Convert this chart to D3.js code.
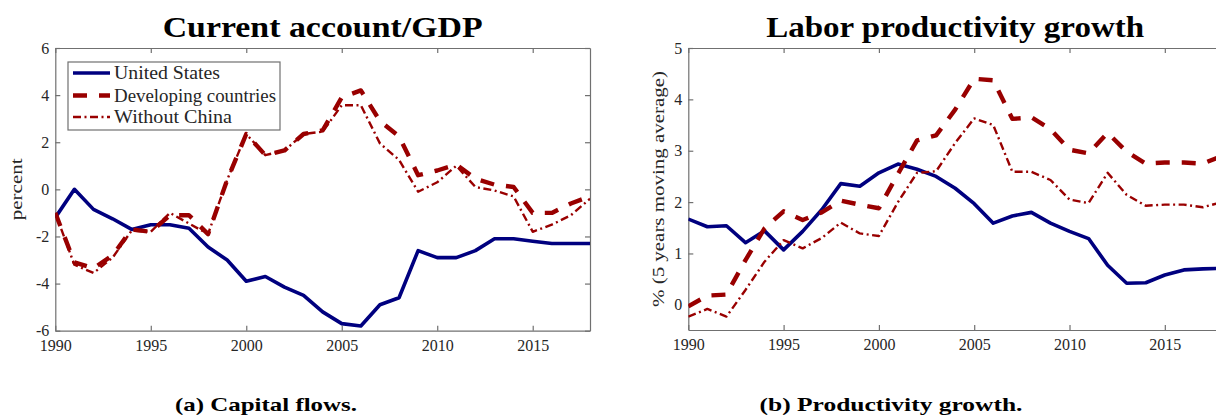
<!DOCTYPE html>
<html>
<head>
<meta charset="utf-8">
<script src="https://cdn.jsdelivr.net/npm/d3@7"></script>
<style>
  html, body { margin: 0; padding: 0; background: #fff; }
  svg { display: block; }
  text { font-family: "Liberation Serif", "Times New Roman", serif; }
</style>
</head>
<body>
<svg id="chart" width="1216" height="416"></svg>
<script>
// ---------------- DATA ----------------
const years = [1990,1991,1992,1993,1994,1995,1996,1997,1998,1999,2000,2001,2002,2003,2004,2005,2006,2007,2008,2009,2010,2011,2012,2013,2014,2015,2016,2017,2018];

// Panel (a): Current account / GDP (percent)
const caUS  = [-1.2, 0.0, -0.85, -1.25, -1.7, -1.5, -1.5, -1.65, -2.45, -3.0, -3.9, -3.7, -4.15, -4.5, -5.2, -5.7, -5.8, -4.9, -4.6, -2.6, -2.9, -2.9, -2.6, -2.1, -2.1, -2.2, -2.3, -2.3, -2.3];
const caDev = [-1.0, -3.1, -3.35, -2.8, -1.7, -1.8, -1.1, -1.1, -1.9, 0.4, 2.35, 1.45, 1.65, 2.35, 2.5, 3.9, 4.2, 2.9, 2.25, 0.6, 0.8, 1.05, 0.45, 0.2, 0.1, -1.0, -1.0, -0.6, -0.3];
const caWoC = [-1.0, -3.2, -3.55, -2.9, -1.75, -1.8, -1.0, -1.45, -1.9, 0.4, 2.35, 1.45, 1.65, 2.35, 2.45, 3.57, 3.57, 1.95, 1.25, -0.1, 0.3, 1.0, 0.1, -0.05, -0.3, -1.8, -1.5, -1.1, -0.4];

// Panel (b): Labor productivity growth (%, 5 years moving average)
const lpUS  = [1.67, 1.52, 1.54, 1.21, 1.44, 1.07, 1.43, 1.85, 2.36, 2.31, 2.57, 2.74, 2.64, 2.5, 2.27, 1.97, 1.59, 1.73, 1.8, 1.59, 1.43, 1.29, 0.77, 0.42, 0.43, 0.58, 0.68, 0.7, 0.71];
const lpDev = [-0.03, 0.18, 0.2, 0.87, 1.49, 1.82, 1.65, 1.8, 2.03, 1.95, 1.88, 2.55, 3.2, 3.3, 3.8, 4.4, 4.37, 3.62, 3.65, 3.42, 3.02, 2.95, 3.35, 2.98, 2.75, 2.77, 2.77, 2.75, 2.9];
const lpWoC = [-0.23, -0.08, -0.23, 0.29, 0.84, 1.26, 1.1, 1.3, 1.6, 1.39, 1.34, 2.0, 2.57, 2.6, 3.15, 3.63, 3.5, 2.59, 2.59, 2.43, 2.05, 1.98, 2.57, 2.14, 1.93, 1.95, 1.95, 1.9, 2.0];

const seriesNames = ["United States", "Developing countries", "Without China"];
const xTicks = [1990, 1995, 2000, 2005, 2010, 2015];
const caTicks = [-6, -4, -2, 0, 2, 4, 6];
const lpTicks = [0, 1, 2, 3, 4, 5];
const titles = ["Current account/GDP", "Labor productivity growth"];
const yLabels = ["percent", "% (5 years moving average)"];
const captions = ["(a) Capital flows.", "(b) Productivity growth."];

// ---------------- STYLE ----------------
const navy = "#00007f", red = "#990000";
const styles = [
  { color: navy, width: 3.6, dash: null },
  { color: red,  width: 4.4, dash: "14,12" },
  { color: red,  width: 2.4, dash: "8,3.5,2,3.5" }
];
const axisColor = "#707070", labelColor = "#262626";

const svg = d3.select("#chart");

function fit(sel, w) {
  sel.attr("textLength", w).attr("lengthAdjust", "spacingAndGlyphs");
}

function panel(cfg) {
  const { x0, x1, yTop, yBot, yDomain, yTicks, data, title, titleW, ylabel, ylabelW, ylabelX, caption, captionX, captionW, legend, id } = cfg;
  const x = d3.scaleLinear().domain([1990, 2018]).range([x0, x1]);
  const y = d3.scaleLinear().domain(yDomain).range([yBot, yTop]);
  const g = svg.append("g");

  g.append("clipPath").attr("id", "clip" + id)
    .append("rect").attr("x", x0).attr("y", yTop).attr("width", x1 - x0).attr("height", yBot - yTop);

  // axes
  const fmtAxis = a => {
    a.selectAll("path.domain").attr("stroke", axisColor).attr("stroke-width", 1.2);
    a.selectAll(".tick line").attr("stroke", axisColor).attr("stroke-width", 1.2);
    a.selectAll(".tick text").attr("fill", labelColor)
      .style("font-family", "'Liberation Serif', serif").style("font-size", "16px");
  };
  g.append("g").attr("transform", `translate(0,${yBot})`)
    .call(d3.axisBottom(x).tickValues(xTicks).tickFormat(d3.format("d")).tickSizeInner(-5).tickSizeOuter(0).tickPadding(9))
    .call(fmtAxis);
  g.append("g").attr("transform", `translate(0,${yTop})`)
    .call(d3.axisTop(x).tickValues(xTicks).tickFormat("").tickSizeInner(-5).tickSizeOuter(0))
    .call(fmtAxis);
  g.append("g").attr("transform", `translate(${x0},0)`)
    .call(d3.axisLeft(y).tickValues(yTicks).tickFormat(d => d < 0 ? "-" + Math.abs(d) : d).tickSizeInner(-5).tickSizeOuter(0).tickPadding(6))
    .call(fmtAxis);
  g.append("g").attr("transform", `translate(${x1},0)`)
    .call(d3.axisRight(y).tickValues(yTicks).tickFormat("").tickSizeInner(-5).tickSizeOuter(0))
    .call(fmtAxis);

  // lines
  const line = d3.line().x((d, i) => x(years[i])).y(d => y(d));
  const lg = g.append("g").attr("clip-path", `url(#clip${id})`);
  data.forEach((s, k) => {
    lg.append("path").datum(s)
      .attr("fill", "none")
      .attr("stroke", styles[k].color)
      .attr("stroke-width", styles[k].width)
      .attr("stroke-dasharray", styles[k].dash)
      .attr("stroke-linejoin", "round")
      .attr("d", line);
  });

  // title
  g.append("text").attr("x", (x0 + x1) / 2).attr("y", 37)
    .attr("text-anchor", "middle").attr("font-weight", "bold")
    .style("font-size", "29px").attr("fill", "#000").text(title).call(fit, titleW);

  // y label
  g.append("text").attr("transform", `translate(${ylabelX},${(yTop + yBot) / 2}) rotate(-90)`)
    .attr("text-anchor", "middle").style("font-size", "17px").attr("fill", labelColor)
    .text(ylabel).call(fit, ylabelW);

  // caption
  g.append("text").attr("x", captionX).attr("y", 411)
    .attr("text-anchor", "middle").attr("font-weight", "bold")
    .style("font-size", "19px").attr("fill", "#000").text(caption).call(fit, captionW);

  if (legend) {
    const lx = 68, ly = 62, lw = 212, lh = 68;
    const leg = g.append("g");
    leg.append("rect").attr("x", lx).attr("y", ly).attr("width", lw).attr("height", lh)
      .attr("fill", "#fff").attr("stroke", axisColor).attr("stroke-width", 1.2);
    const rows = [73, 95.5, 117];
    const tw = [106, 162, 118];
    seriesNames.forEach((name, k) => {
      leg.append("line").attr("x1", 73).attr("x2", 110).attr("y1", rows[k]).attr("y2", rows[k])
        .attr("stroke", styles[k].color).attr("stroke-width", styles[k].width)
        .attr("stroke-dasharray", styles[k].dash);
      leg.append("text").attr("x", 114).attr("y", rows[k] + 6)
        .style("font-size", "18px").attr("fill", labelColor).text(name).call(fit, tw[k]);
    });
  }
}

panel({
  id: "a", x0: 55.3, x1: 590, yTop: 48, yBot: 330.7, yDomain: [-6, 6], yTicks: caTicks,
  data: [caUS, caDev, caWoC], title: titles[0], titleW: 320,
  ylabel: yLabels[0], ylabelW: 62, ylabelX: 22,
  caption: captions[0], captionX: 266, captionW: 182, legend: true
});
panel({
  id: "b", x0: 688.3, x1: 1222, yTop: 48, yBot: 330, yDomain: [-0.49, 5], yTicks: lpTicks,
  data: [lpUS, lpDev, lpWoC], title: titles[1], titleW: 378,
  ylabel: yLabels[1], ylabelW: 236, ylabelX: 664,
  caption: captions[1], captionX: 891, captionW: 263, legend: false
});
</script>
</body>
</html>
